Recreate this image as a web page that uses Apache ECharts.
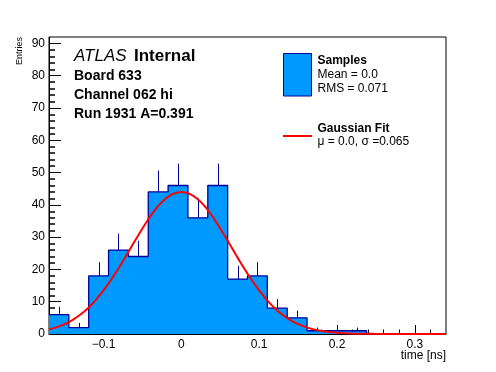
<!DOCTYPE html>
<html><head><meta charset="utf-8">
<script src="https://cdn.jsdelivr.net/npm/echarts@6/dist/echarts.min.js"></script>
<style>html,body{margin:0;padding:0;background:#fff}#c{width:496px;height:372px}</style>
</head><body><div id="c"></div>
<script>
// Histogram definition (20 bins from -0.17 to 0.34 ns)
const binEdges = [-0.17,-0.1445,-0.119,-0.0935,-0.068,-0.0425,-0.017,0.0085,0.034,0.0595,0.085,0.1105,0.136,0.1615,0.187,0.2125,0.238,0.2635,0.289,0.3145,0.34];
const counts = [6,2,18,26,24,44,46,36,46,17,18,8,5,1,1,1,0,0,0,0];
const errors = [2.45,1.41,4.24,5.10,4.90,6.63,6.78,6.00,6.78,4.12,4.24,2.83,2.24,1,1,1,0,0,0,0];
// Gaussian fit curve
const fitX = [-0.17,-0.16,-0.15,-0.14,-0.13,-0.12,-0.11,-0.10,-0.09,-0.08,-0.07,-0.06,-0.05,-0.04,-0.03,-0.02,-0.01,0,0.01,0.02,0.03,0.04,0.05,0.06,0.07,0.08,0.09,0.10,0.11,0.12,0.13,0.14,0.15,0.16,0.17,0.18,0.19,0.20,0.21,0.22,0.23,0.24,0.25,0.26,0.27,0.28,0.29,0.30,0.31,0.32,0.33,0.34];
const fitY = [1.44,2.13,3.07,4.3,5.95,8.0,10.5,13.5,16.9,20.6,24.6,28.7,32.7,36.4,39.6,42.0,43.5,44.0,43.5,42.0,39.6,36.4,32.7,28.7,24.6,20.6,16.9,13.5,10.5,8.0,5.95,4.3,3.07,2.13,1.44,0.95,0.61,0.39,0.24,0.14,0.08,0.05,0.03,0.01,0,0,0,0,0,0,0,0];
// Axis ticks
const xMajorTicks = [-0.1,0,0.1,0.2,0.3];
const xMinorTicks = [-0.16,-0.14,-0.12,-0.08,-0.06,-0.04,-0.02,0.02,0.04,0.06,0.08,0.12,0.14,0.16,0.18,0.22,0.24,0.26,0.28,0.32];
const yMajorTicks = [0,10,20,30,40,50,60,70,80,90];
const yMinorTicks = [2,4,6,8,12,14,16,18,22,24,26,28,32,34,36,38,42,44,46,48,52,54,56,58,62,64,66,68,72,74,76,78,82,84,86,88];

const FONT = "'Liberation Sans', Arial, Helvetica, sans-serif";
const FILL = '#0099ff', NAVY = '#000099';

const histData = binEdges.map((e, i) => [e, i < counts.length ? counts[i] : 0]);
const errData = [];
counts.forEach((c, i) => { if (c > 0) errData.push([(binEdges[i] + binEdges[i+1]) / 2, c, c + errors[i]]); });
const fitData = fitX.map((x, i) => [x, fitY[i]]);

const chart = echarts.init(document.getElementById('c'));
const gridPos = {left: 49, top: 37, right: 50, bottom: 38};
const lab = {fontFamily: FONT, fontSize: 12, color: '#000'};
chart.setOption({
  animation: false,
  grid: [
    Object.assign({show: true, borderColor: '#000', borderWidth: 1}, gridPos),
    Object.assign({show: false}, gridPos)
  ],
  xAxis: [
    {type: 'value', gridIndex: 0, position: 'bottom', min: -0.17, max: 0.34,
     axisLine: {show: true, onZero: false, lineStyle: {color: '#000', width: 1}},
     axisTick: {show: true, inside: true, length: 9, customValues: xMajorTicks, lineStyle: {color: '#000', width: 1}},
     axisLabel: Object.assign({customValues: xMajorTicks, margin: 5,
       formatter: v => (Math.abs(v) < 1e-9 ? '0' : String(+v.toFixed(2)).replace('-', '\u2212'))}, lab),
     splitLine: {show: false}},
    {type: 'value', gridIndex: 1, position: 'bottom', min: -0.17, max: 0.34,
     axisLine: {show: false, onZero: false}, axisLabel: {show: false}, splitLine: {show: false},
     axisTick: {show: true, inside: true, length: 4.5, customValues: xMinorTicks, lineStyle: {color: '#000', width: 1}}}
  ],
  yAxis: [
    {type: 'value', gridIndex: 0, position: 'left', min: 0, max: 92,
     axisLine: {show: true, onZero: false, lineStyle: {color: '#000', width: 1}},
     axisTick: {show: true, inside: true, length: 12, customValues: yMajorTicks, lineStyle: {color: '#000', width: 1}},
     axisLabel: Object.assign({customValues: yMajorTicks, margin: 4}, lab),
     splitLine: {show: false}},
    {type: 'value', gridIndex: 1, position: 'left', min: 0, max: 92,
     axisLine: {show: false, onZero: false}, axisLabel: {show: false}, splitLine: {show: false},
     axisTick: {show: true, inside: true, length: 6, customValues: yMinorTicks, lineStyle: {color: '#000', width: 1.5}}}
  ],
  series: [
    {type: 'line', xAxisIndex: 0, yAxisIndex: 0, step: 'end', data: histData, symbol: 'none',
     lineStyle: {color: NAVY, width: 1.3}, areaStyle: {color: FILL, opacity: 1, origin: 'start'}, z: 2},
    {type: 'custom', xAxisIndex: 0, yAxisIndex: 0, data: errData, z: 3,
     renderItem: (params, api) => {
       const p1 = api.coord([api.value(0), api.value(1)]);
       const p2 = api.coord([api.value(0), api.value(2)]);
       return {type: 'line', shape: {x1: Math.round(p1[0]) + 0.5, y1: p1[1], x2: Math.round(p2[0]) + 0.5, y2: p2[1]},
               style: {stroke: NAVY, lineWidth: 1}};
     }},
    {type: 'line', xAxisIndex: 0, yAxisIndex: 0, data: fitData, symbol: 'none', smooth: 0.3,
     lineStyle: {color: '#ff0000', width: 2}, z: 4}
  ],
  graphic: [
    {type: 'text', x: 74, y: 56.7, style: {text: 'ATLAS', font: 'italic 17px ' + FONT, fill: '#000', textVerticalAlign: 'middle'}},
    {type: 'text', x: 134, y: 56.7, style: {text: 'Internal', font: 'bold 17px ' + FONT, fill: '#000', textVerticalAlign: 'middle'}},
    {type: 'text', x: 74, y: 75.8, style: {text: 'Board 633', font: 'bold 14px ' + FONT, fill: '#000', textVerticalAlign: 'middle'}},
    {type: 'text', x: 74, y: 95.1, style: {text: 'Channel 062 hi', font: 'bold 14px ' + FONT, fill: '#000', textVerticalAlign: 'middle'}},
    {type: 'text', x: 74, y: 114.1, style: {text: 'Run 1931 A=0.391', font: 'bold 14px ' + FONT, fill: '#000', textVerticalAlign: 'middle'}},
    {type: 'rect', shape: {x: 283.5, y: 53.5, width: 28, height: 42.5}, style: {fill: FILL, stroke: NAVY, lineWidth: 1}},
    {type: 'text', x: 317.5, y: 60.8, style: {text: 'Samples', font: 'bold 12px ' + FONT, fill: '#000', textVerticalAlign: 'middle'}},
    {type: 'text', x: 317.5, y: 75.1, style: {text: 'Mean = 0.0', font: '12px ' + FONT, fill: '#000', textVerticalAlign: 'middle'}},
    {type: 'text', x: 317.5, y: 89.1, style: {text: 'RMS = 0.071', font: '12px ' + FONT, fill: '#000', textVerticalAlign: 'middle'}},
    {type: 'line', shape: {x1: 283, y1: 136, x2: 312, y2: 136}, style: {stroke: '#ff0000', lineWidth: 2}},
    {type: 'text', x: 317.5, y: 128.5, style: {text: 'Gaussian Fit', font: 'bold 12px ' + FONT, fill: '#000', textVerticalAlign: 'middle'}},
    {type: 'text', x: 317.5, y: 141.8, style: {text: '\u03bc = 0.0, \u03c3 =0.065', font: '12px ' + FONT, fill: '#000', textVerticalAlign: 'middle'}},
    {type: 'text', x: 446, y: 355.5, style: {text: 'time [ns]', font: '12px ' + FONT, fill: '#000', textAlign: 'right', textVerticalAlign: 'middle'}},
    {type: 'text', x: 19.2, y: 37, rotation: Math.PI / 2, style: {text: 'Entries', font: '9px ' + FONT, fill: '#000', textAlign: 'right', textVerticalAlign: 'middle'}}
  ]
});
</script></body></html>
